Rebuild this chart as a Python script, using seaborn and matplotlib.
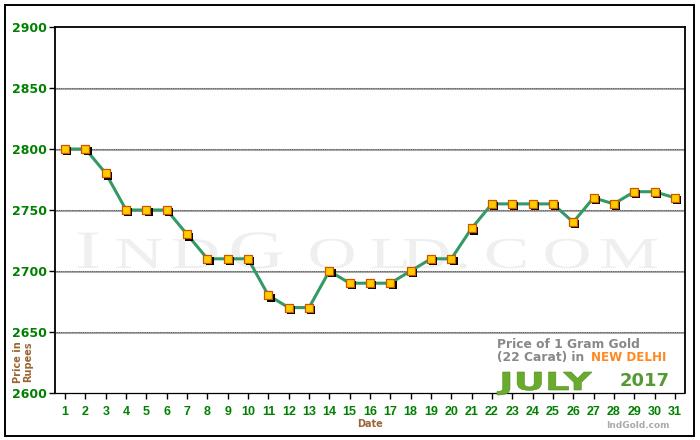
import numpy as np
import pandas as pd
import matplotlib
matplotlib.use("Agg")
import matplotlib.pyplot as plt
import matplotlib.transforms as mtransforms
from matplotlib.textpath import TextPath
from matplotlib.patches import PathPatch
from matplotlib.font_manager import FontProperties
import seaborn as sns

# Werte (Preis 1 g Gold, 22 Karat, New Delhi, Juli 2017)
days = list(range(1, 32))
prices = [2800, 2800, 2780, 2750, 2750, 2750, 2730, 2710, 2710, 2710,
          2680, 2670, 2670, 2700, 2690, 2690, 2690, 2700, 2710, 2710,
          2735, 2755, 2755, 2755, 2755, 2740, 2760, 2755, 2765, 2765, 2760]
y_ticks = [2600, 2650, 2700, 2750, 2800, 2850, 2900]

df = pd.DataFrame({"day": days, "price": prices})

sns.set_theme(style="white")
plt.rcParams["font.family"] = ["DejaVu Sans"]

W, H = 700, 440
fig = plt.figure(figsize=(7, 4.4), dpi=100)
ax = fig.add_axes([55 / W, 47 / H, 630 / W, 366 / H])

# Rahmen um die ganze Grafik
fig.patches.append(plt.Rectangle((5 / W, 4 / H), 689 / W, 431 / H,
                                 transform=fig.transFigure, fill=False,
                                 edgecolor="black", lw=1.4))

# Wasserzeichen (breite Kapitaelchen, einzeln gesetzt) - hinter den Daten
wm_chars = ["I", "N", "D", "G", "O", "L", "D", ".", "C", "O", "M"]
wm_x = [88, 139, 195, 257, 332, 389, 426, 463, 506, 567, 629]
wm_big = [True, False, False, True, False, False, False, False, False, False, False]
wm_font = FontProperties(family="Liberation Serif")
for ch, xp, big in zip(wm_chars, wm_x, wm_big):
    p = TextPath((0, 0), ch, size=60 if big else 52, prop=wm_font)
    e = p.get_extents()
    t = mtransforms.Affine2D().translate(-(e.x0 + e.x1) / 2, 0) \
        .scale(1.3, 0.9 if big else 0.85).translate(xp, H - 268)
    ax.add_artist(PathPatch(p, transform=t, facecolor="#efefef",
                            edgecolor="none", zorder=0.2))

# Gitterlinien: grau mit schwarz gepunkteter Linie darueber
grid_tr = mtransforms.offset_copy(ax.get_yaxis_transform(), fig=fig,
                                  y=-0.6, units="points")
for yv in y_ticks[1:-1]:
    ax.plot([0, 1], [yv, yv], color="#a8a8a8", lw=1.5, zorder=1,
            transform=grid_tr)
    ax.axhline(yv, color="#444444", lw=0.55, ls=(0, (1.2, 1.2)), zorder=1.1)

sns.lineplot(data=df, x="day", y="price", color="#339966", lw=2.2, ax=ax,
             zorder=2)
shadow = mtransforms.offset_copy(ax.transData, fig=fig, x=1.6, y=-1.6,
                                 units="points")
sns.scatterplot(data=df, x="day", y="price", marker="s", s=38, color="black",
                edgecolor="black", linewidth=0, transform=shadow, ax=ax,
                zorder=3)
sns.scatterplot(data=df, x="day", y="price", marker="s", s=38,
                color="#ffcc00", edgecolor="#cc5500", linewidth=0.9, ax=ax,
                zorder=4)

ax.set_xlim(0.5, 31.5)
ax.set_ylim(2600, 2900)
ax.set_yticks(y_ticks)
ax.set_xticks(days)
ax.tick_params(axis="both", which="both", direction="out", length=4,
               width=1, color="black", left=True, bottom=True)
ax.tick_params(axis="y", pad=2)
ax.tick_params(axis="x", pad=5)
for lab in ax.get_yticklabels():
    lab.set_color("#008000"); lab.set_fontweight("bold"); lab.set_fontsize(9)
for lab in ax.get_xticklabels():
    lab.set_color("#008000"); lab.set_fontweight("bold"); lab.set_fontsize(9)
    lab.set_family("Liberation Sans")

for s in ["left", "right", "top"]:
    ax.spines[s].set_color("black"); ax.spines[s].set_linewidth(1.3)
ax.spines["bottom"].set_color("black")
ax.spines["bottom"].set_linewidth(0.9)
ax.spines["bottom"].set_linestyle((0, (2, 1)))

ax.set_xlabel("Date", color="#996633", fontweight="bold", fontsize=7,
              labelpad=1)
ax.set_ylabel("")
fig.text(23 / W, 1 - 362 / H, "Price in\nRupees", rotation=90,
         ha="center", va="center", color="#996633", fontweight="bold",
         fontsize=7, linespacing=1.1)

# Legendentext unten rechts
fig.text(497 / W, 1 - 344 / H, "Price of 1 Gram Gold", color="#888888",
         fontweight="bold", fontsize=8.8, va="center")
fig.text(497 / W, 1 - 357 / H, "(22 Carat) in ", color="#888888",
         fontweight="bold", fontsize=8.8, va="center")
fig.text(591 / W, 1 - 357 / H, "NEW DELHI", color="#ff8822",
         fontweight="bold", fontsize=8.6, va="center")

# "JULY" breit gezogen
fp = FontProperties(family="DejaVu Sans", weight="bold")
tp = TextPath((0, 0), "JULY", size=24, prop=fp)
bb = tp.get_extents()
cap = TextPath((0, 0), "ULY", size=24, prop=fp).get_extents()
sx = 95 / bb.width
sy = 18 / cap.y1
tr = mtransforms.Affine2D().translate(-bb.x0, 0).scale(sx, sy) \
    .translate(497, H - 390)
fig.add_artist(PathPatch(tp, transform=tr, facecolor="#6aab2e",
                         edgecolor="#4d8a22", lw=0.4, zorder=5))
fig.text(620 / W, 1 - 381 / H, "2017", color="#559933",
         fontweight="bold", fontsize=13, va="center")
fig.text(638 / W, 1 - 425 / H, "IndGold.com", color="#aaaaaa",
         fontweight="bold", fontsize=6.5, ha="center", va="center")

fig.savefig("out.png", dpi=100)
